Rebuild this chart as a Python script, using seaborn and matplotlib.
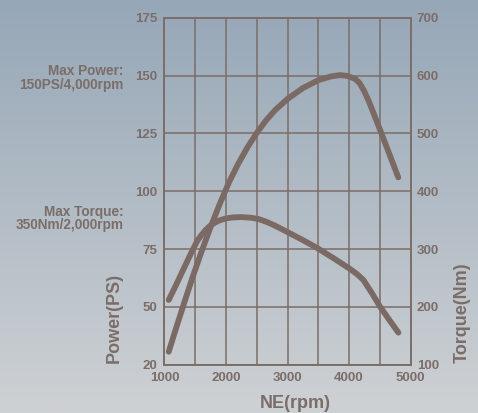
import numpy as np
import pandas as pd
import seaborn as sns
import matplotlib as mpl
import matplotlib.pyplot as plt

# engine curves
rpm_power = [1070, 1200, 1330, 1460, 1600, 1750, 1900, 2050, 2200, 2350, 2500,
             2650, 2800, 3000, 3250, 3500, 3700, 3850, 3963, 4098, 4170, 4240,
             4320, 4400, 4500, 4650, 4800]
power_ps = [30.6, 41.7, 52.5, 63.0, 73.7, 84.5, 94.6, 103.9, 111.9, 119.0, 125.2,
            130.6, 135.1, 139.9, 144.6, 148.0, 149.6, 150.2, 149.9, 148.6, 146.8,
            143.6, 139.0, 133.6, 126.8, 116.4, 106]

rpm_torque = [1070, 1190, 1304, 1420, 1533, 1600, 1670, 1740, 1820, 1900, 1984,
              2100, 2250, 2400, 2525, 2660, 2797, 2987, 3240, 3491, 3750, 4000,
              4120, 4233, 4370, 4504, 4650, 4802]
torque_nm = [212, 238, 264, 290, 314, 324, 333, 340, 345.7, 349.8, 352.5, 354.6,
             355.3, 354.2, 352, 347, 340.4, 330, 316, 301.3, 284, 266.7, 257.5,
             246.5, 224, 200.3, 178, 155.4]

x_ticks = [1000, 2000, 3000, 4000, 5000]
power_ticks = [25, 50, 75, 100, 125, 150, 175]
power_labels = ["20", "50", "75", "100", "125", "150", "175"]
torque_ticks = [100, 200, 300, 400, 500, 600, 700]

INK = "#7b6d68"
LINE = "#7b6a64"

sns.set_theme(style="white")
mpl.rcParams.update({
    "font.family": ["Liberation Sans", "DejaVu Sans"],
    "font.weight": "bold",
    "axes.edgecolor": INK,
    "axes.linewidth": 1.1,
    "text.color": INK,
    "xtick.color": INK,
    "ytick.color": INK,
})

fig = plt.figure(figsize=(4.78, 4.13), dpi=100)

# gradient backdrop
bg = fig.add_axes([0, 0, 1, 1], zorder=-10)
top = np.array([150, 167, 183]) / 255
bottom = np.array([206, 209, 212]) / 255
t = np.linspace(0, 1, 256)[:, None]
grad = (top[None, :] * (1 - t) + bottom[None, :] * t)[:, None, :]
bg.imshow(np.repeat(grad, 2, axis=1), aspect="auto", extent=[0, 1, 0, 1])
bg.axis("off")

ax = fig.add_axes([0.344, 0.117, 0.515, 0.84])
ax.patch.set_alpha(0)

df_p = pd.DataFrame({"rpm": rpm_power, "power": power_ps})
df_t = pd.DataFrame({"rpm": rpm_torque, "torque": torque_nm})

sns.lineplot(data=df_p, x="rpm", y="power", ax=ax, color=LINE, lw=4.2,
             solid_capstyle="round", solid_joinstyle="round", zorder=3)
ax.set_xlim(1000, 5000)
ax.set_ylim(25, 175)
ax.set_xticks(x_ticks)
ax.set_xticks(np.arange(1500, 5000, 1000), minor=True)
ax.set_yticks(power_ticks)
ax.set_yticklabels(power_labels)
ax.grid(True, which="both", color=INK, lw=1.1)
ax.tick_params(axis="both", which="both", length=0, labelsize=9.5)
ax.tick_params(axis="y", pad=5.2)
ax.tick_params(axis="x", pad=5.5)
ax.set_xlabel("")
ax.set_ylabel("")

ax2 = ax.twinx()
sns.lineplot(data=df_t, x="rpm", y="torque", ax=ax2, color=LINE, lw=4.2,
             solid_capstyle="round", solid_joinstyle="round", zorder=3)
ax2.set_ylim(100, 700)
ax2.set_yticks(torque_ticks)
ax2.tick_params(axis="y", length=0, labelsize=9.5, pad=4.5)
ax2.set_ylabel("")
ax2.grid(False)

for lab in ax.get_xticklabels() + ax.get_yticklabels() + ax2.get_yticklabels():
    lab.set_fontweight("bold")

fig.text(0.617, 0.024, "NE(rpm)", fontsize=13, fontweight="bold", ha="center", va="center")
fig.text(0.2385, 0.231, "Power(PS)", fontsize=13, fontweight="bold", rotation=90,
         ha="center", va="center")
fig.text(0.9676, 0.242, "Torque(Nm)", fontsize=13, fontweight="bold", rotation=90,
         ha="center", va="center")

note_kw = dict(fontsize=9.8, fontweight="bold", ha="right", va="center")
fig.text(0.258, 0.827, "Max Power:", **note_kw)
fig.text(0.258, 0.795, "150PS/4,000rpm", **note_kw)
fig.text(0.258, 0.4874, "Max Torque:", **note_kw)
fig.text(0.258, 0.454, "350Nm/2,000rpm", **note_kw)

fig.savefig("out.png", dpi=100)
